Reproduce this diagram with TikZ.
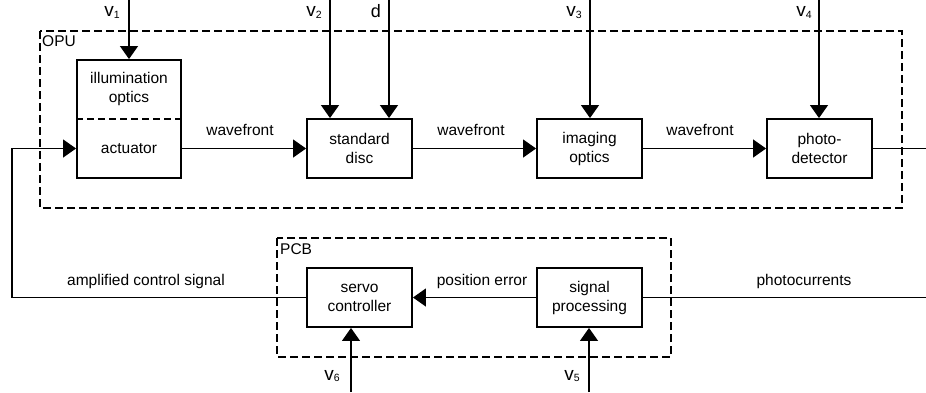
\documentclass[tikz,border=0pt]{standalone}
\usepackage{fontspec}
\setmainfont{Liberation Sans}
\usetikzlibrary{arrows.meta}
\newcommand{\vsig}[1]{{\fontsize{19}{19}\selectfont v}\raisebox{-1.5pt}{\fontsize{10.5}{10.5}\selectfont #1}}
\begin{document}
\begin{tikzpicture}[x=1pt,y=-1pt,
  every node/.style={font=\fontsize{15.5}{19}\selectfont, inner sep=0pt},
  blk/.style={draw, line width=1.9pt, minimum width=105pt, minimum height=59pt, align=center},
  conn/.style={line width=1.2pt},
  arr/.style={conn, -{Triangle[length=13pt,width=18pt]}},
  grp/.style={draw, line width=1.4pt, dash pattern=on 8pt off 4pt},
  lbl/.style={anchor=base},
  inp/.style={anchor=base east}]
\useasboundingbox (0,0) rectangle (926,392);
% group boxes
\draw[grp] (40,31) rectangle (902,208);
\node[anchor=north west] (opu) at (42,35) {OPU};
\draw[grp] (277,238) rectangle (671,357);
\node[anchor=north west] (pcb) at (280,243) {PCB};
% blocks
\node[blk, minimum height=118pt, minimum width=104pt] (ill) at (129,119) {};
\draw[line width=1.2pt, dash pattern=on 7pt off 4pt] (ill.west) -- (ill.east);
\node[align=center] (illt) at (129,89) {illumination\\optics};
\node (actt) at (129,149) {actuator};
\node[blk] (disc) at (359.5,148.5) {standard\\disc};
\node[blk] (img) at (589.5,148.5) {imaging\\optics};
\node[blk] (pd) at (819.5,148.5) {photo-\\detector};
\node[blk] (servo) at (359.5,297.5) {servo\\controller};
\node[blk] (sp) at (589.5,297.5) {signal\\processing};
% input coordinates
\coordinate (i1) at (129,0);
\coordinate (i2) at (330,0);
\coordinate (id) at (389,0);
\coordinate (i3) at (590,0);
\coordinate (i4) at (819,0);
\coordinate (i6) at (351,392);
\coordinate (i5) at (589,392);
\draw[arr] (i1) -- (ill.north);
\draw[arr] (i2) -- (i2 |- disc.north);
\draw[arr] (id) -- (id |- disc.north);
\draw[arr] (i3) -- (i3 |- img.north);
\draw[arr] (i4) -- (i4 |- pd.north);
\draw[arr] (i6) -- (i6 |- servo.south);
\draw[arr] (i5) -- (i5 |- sp.south);
\node[inp] (v1) at (120,16.5) {\vsig{1}};
\node[inp] (v2) at (322,16.5) {\vsig{2}};
\node[inp, font=\fontsize{18}{18}\selectfont] (vd) at (381,17) {d};
\node[inp] (v3) at (582,16.5) {\vsig{3}};
\node[inp] (v4) at (812,16.5) {\vsig{4}};
\node[inp] (v6) at (340,380) {\vsig{6}};
\node[inp] (v5) at (580,380) {\vsig{5}};
% main chain
\draw[arr] (disc.west -| ill.east) -- (disc.west);
\draw[arr] (disc.east) -- (img.west);
\draw[arr] (img.east) -- (pd.west);
\coordinate (r1) at (926,148.5);
\coordinate (r2) at (926,297.5);
\coordinate (l1) at (12,297.5);
\coordinate (l2) at (12,148.5);
\draw[conn] (pd.east) -- (r1);
\draw[conn] (r2) -- (sp.east);
\draw[arr] (sp.west) -- (servo.east);
\draw[arr] (servo.west) -- (l1) -- (l2) -- (disc.west -| ill.west);
% labels
\node[lbl] (w1) at (240,135) {wavefront};
\node[lbl] (w2) at (471,135) {wavefront};
\node[lbl] (w3) at (700,135) {wavefront};
\node[lbl] (acs) at (146,285) {amplified control signal};
\node[lbl] (pe) at (482,285) {position error};
\node[lbl] (pc) at (804,285) {photocurrents};
\end{tikzpicture}
\end{document}
